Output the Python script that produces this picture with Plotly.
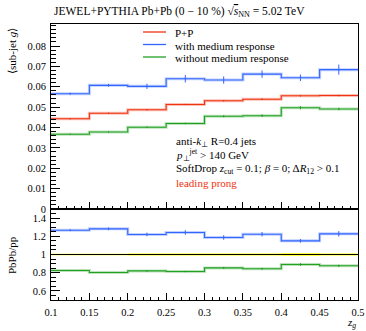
import plotly.graph_objects as go

edges = [0.10, 0.15, 0.20, 0.25, 0.30, 0.35, 0.40, 0.45, 0.50]
centers = [0.125, 0.175, 0.225, 0.275, 0.325, 0.375, 0.425, 0.475]

pp = [0.0443, 0.0470, 0.0487, 0.0513, 0.0531, 0.0539, 0.0556, 0.0557]
pp_err = [0.0003, 0.0003, 0.0003, 0.0003, 0.0003, 0.0004, 0.0004, 0.0004]
med = [0.0566, 0.0607, 0.0602, 0.0639, 0.0633, 0.0662, 0.0644, 0.0684]
med_err = [0.0005, 0.0007, 0.0013, 0.0018, 0.0018, 0.0018, 0.0016, 0.0025]
nomed = [0.0367, 0.0378, 0.0401, 0.0420, 0.0455, 0.0458, 0.0497, 0.0491]
nomed_err = [0.0003, 0.0003, 0.0004, 0.0004, 0.0005, 0.0006, 0.0008, 0.0006]

r_med = [1.267, 1.282, 1.220, 1.242, 1.187, 1.223, 1.150, 1.227]
r_med_err = [0.010, 0.015, 0.020, 0.025, 0.025, 0.025, 0.020, 0.030]
r_nomed = [0.824, 0.802, 0.820, 0.813, 0.853, 0.843, 0.890, 0.876]
r_nomed_err = [0.006, 0.006, 0.008, 0.008, 0.010, 0.010, 0.015, 0.012]
r_pp_band = [0.008, 0.008, 0.010, 0.010, 0.012, 0.012, 0.014, 0.012]

RED = "#ee3311"
BLUE = "#3366ff"
GREEN = "#22a022"
LBLUE = "rgba(51,102,255,0.3)"
LGREEN = "rgba(34,160,34,0.3)"
LRED = "rgba(238,51,17,0.3)"
FONT = "Liberation Serif"

fig = go.Figure()

def step(vals):
    return vals + [vals[-1]]

def add_series(vals, errs, col, lcol, xa, ya):
    fig.add_trace(go.Scatter(x=edges, y=step(vals), mode="lines", line_shape="hv",
                             line=dict(color=lcol, width=3), xaxis=xa, yaxis=ya, showlegend=False, hoverinfo="skip"))
    fig.add_trace(go.Scatter(x=edges, y=step(vals), mode="lines", line_shape="hv",
                             line=dict(color=col, width=1.1), xaxis=xa, yaxis=ya, showlegend=False))
    fig.add_trace(go.Scatter(x=centers, y=vals, mode="markers", marker=dict(size=1, color=col),
                             error_y=dict(type="data", array=errs, color=col, thickness=1, width=0),
                             xaxis=xa, yaxis=ya, showlegend=False))

add_series(med, med_err, BLUE, LBLUE, "x", "y")
add_series(pp, pp_err, RED, LRED, "x", "y")
add_series(nomed, nomed_err, GREEN, LGREEN, "x", "y")

band_lo = [1 - e for e in r_pp_band]
band_hi = [1 + e for e in r_pp_band]
fig.add_trace(go.Scatter(x=edges, y=step(band_hi), mode="lines", line_shape="hv", line=dict(width=0, color="#ffff00"),
                         xaxis="x2", yaxis="y2", showlegend=False, hoverinfo="skip"))
fig.add_trace(go.Scatter(x=edges, y=step(band_lo), mode="lines", line_shape="hv", line=dict(width=0, color="#ffff00"),
                         fill="tonexty", fillcolor="#ffff00", xaxis="x2", yaxis="y2", showlegend=False, hoverinfo="skip"))
fig.add_trace(go.Scatter(x=[edges[0], edges[-1]], y=[1, 1], mode="lines", line=dict(color="black", width=1.2),
                         xaxis="x2", yaxis="y2", showlegend=False))
add_series(r_med, r_med_err, BLUE, LBLUE, "x2", "y2")
add_series(r_nomed, r_nomed_err, GREEN, LGREEN, "x2", "y2")

W, H = 366, 331
L, R, T, B = 51, 8, 24, 31
pw, ph = W - L - R, H - T - B
split = (300 - 209) / ph

axis_common = dict(showline=True, linecolor="black", linewidth=1, mirror=True, ticks="inside",
                   tickcolor="black", showgrid=False, zeroline=False, automargin=False, ticklabelstandoff=2,
                   tickfont=dict(family=FONT, size=10.5, color="black"))

fig.update_layout(
    width=W, height=H, margin=dict(l=L, r=R, t=T, b=B, autoexpand=False),
    font=dict(family=FONT, color="black"),
    paper_bgcolor="white", plot_bgcolor="white", showlegend=False,
    xaxis=dict(axis_common, range=[0.1, 0.5], domain=[0, 1], anchor="y", showticklabels=False,
               tickvals=edges, ticklen=7,
               minor=dict(tickmode="linear", tick0=0.1, dtick=0.01, ticklen=3.5, ticks="inside", tickcolor="black")),
    yaxis=dict(axis_common, range=[0, 0.0908], domain=[split, 1], anchor="x",
               tickvals=[0, 0.01, 0.02, 0.03, 0.04, 0.05, 0.06, 0.07, 0.08],
               ticktext=["0", "0.01", "0.02", "0.03", "0.04", "0.05", "0.06", "0.07", "0.08"], ticklen=9,
               minor=dict(tickmode="linear", tick0=0, dtick=0.002, ticklen=4.5, ticks="inside", tickcolor="black")),
    xaxis2=dict(axis_common, range=[0.1, 0.5], domain=[0, 1], anchor="y2",
                tickvals=edges, ticktext=["0.1", "0.15", "0.2", "0.25", "0.3", "0.35", "0.4", "0.45", "0.5"],
                ticklen=7,
                minor=dict(tickmode="linear", tick0=0.1, dtick=0.01, ticklen=3.5, ticks="inside", tickcolor="black")),
    yaxis2=dict(axis_common, range=[0.5, 1.5], domain=[0, split], anchor="x2",
                tickvals=[0.6, 0.8, 1.0, 1.2, 1.4], ticktext=["0.6", "0.8", "1", "1.2", "1.4"], ticklen=9,
                minor=dict(tickmode="linear", tick0=0.5, dtick=0.05, ticklen=4.5, ticks="inside", tickcolor="black")),
)

def px(x):
    return (x - L) / pw

def py(y):
    return (H - B - y) / ph

ann = []
ann.append(dict(text="JEWEL+PYTHIA Pb+Pb (0 − 10 %) √<span style='text-decoration:overline'><i>s</i></span><sub>NN</sub> = 5.02 TeV",
                x=px(52), y=py(12), xanchor="left", yanchor="middle", font=dict(size=11.5)))
ann.append(dict(text="⟨sub-jet <i>g</i>⟩", x=px(12), y=py(26), xanchor="center", yanchor="top", textangle=-90,
                font=dict(size=11)))
ann.append(dict(text="PbPb/pp", x=px(12), y=py(255), xanchor="center", yanchor="middle", textangle=-90,
                font=dict(size=11)))
ann.append(dict(text="<i>z</i><sub><i>g</i></sub>", x=px(358), y=py(323), xanchor="right", yanchor="middle",
                font=dict(size=11)))

legend_rows = [("P+P", RED, 33), ("with medium response", BLUE, 45.5), ("without medium response", GREEN, 58)]
shapes = []
for name, col, yy in legend_rows:
    shapes.append(dict(type="line", xref="paper", yref="paper", x0=px(143), x1=px(166), y0=py(yy - 1), y1=py(yy - 1),
                       line=dict(color=col, width=1.3)))
    ann.append(dict(text=name, x=px(173), y=py(yy), xanchor="left", yanchor="middle", font=dict(size=11)))

ann.append(dict(text="anti-<i>k</i><sub>⊥</sub> R=0.4 jets", x=px(174), y=py(142), xanchor="left", yanchor="middle",
                font=dict(size=11)))
ann.append(dict(text="<i>p</i><sub>⊥</sub><sup>jet</sup> > 140 GeV", x=px(174), y=py(155), xanchor="left", yanchor="middle",
                font=dict(size=11)))
ann.append(dict(text="SoftDrop <i>z</i><sub>cut</sub> = 0.1; <i>β</i> = 0; Δ<i>R</i><sub>12</sub> > 0.1", x=px(174), y=py(169),
                xanchor="left", yanchor="middle", font=dict(size=11)))
ann.append(dict(text="leading prong", x=px(174), y=py(183), xanchor="left", yanchor="middle",
                font=dict(size=11, color=RED)))

for a in ann:
    a.update(xref="paper", yref="paper", showarrow=False)
    f = a.setdefault("font", {})
    f.setdefault("family", FONT)
    f.setdefault("color", "black")

fig.update_layout(annotations=ann, shapes=shapes)
fig.write_html("out.html", config={"displayModeBar": False},
               post_script="document.body.style.margin='0';document.body.style.padding='0';")
